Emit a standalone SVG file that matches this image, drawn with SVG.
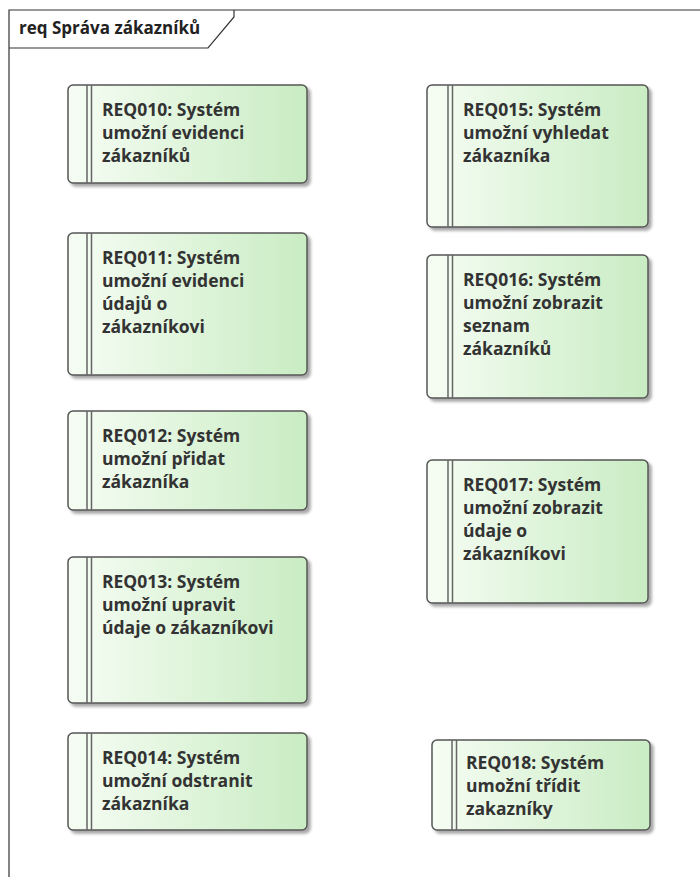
<svg xmlns="http://www.w3.org/2000/svg" width="700" height="877" viewBox="0 0 700 877">
  <style>
    .box { fill: url(#reqFill); stroke: #555555; stroke-width: 1.5; filter: url(#shadow); }
    .bar { stroke: #666666; stroke-width: 1.5; fill: none; }
    .lbl { font-family: "Open Sans", "Liberation Sans", sans-serif; font-weight: bold; font-size: 17.5px; fill: #333333; }
    .title { font-family: "Open Sans", "Liberation Sans", sans-serif; font-weight: bold; font-size: 17px; fill: #222222; }
    .frame { fill: none; stroke: #333333; stroke-width: 1.2; }
  </style>
  <defs>
    <linearGradient id="reqFill" x1="0" y1="0" x2="1" y2="0">
      <stop offset="0" stop-color="#f6fdf4"/>
      <stop offset="1" stop-color="#c9ecc3"/>
    </linearGradient>
    <filter id="shadow" x="-10%" y="-10%" width="125%" height="125%">
      <feGaussianBlur in="SourceAlpha" stdDeviation="1.5"/>
      <feOffset dx="3" dy="3" result="off"/>
      <feComponentTransfer><feFuncA type="linear" slope="0.35"/></feComponentTransfer>
      <feMerge><feMergeNode/><feMergeNode in="SourceGraphic"/></feMerge>
    </filter>
  </defs>
  <rect width="700" height="877" fill="#ffffff"/>

  <!-- package frame with name tab -->
  <g id="frame">
    <path class="frame" d="M9,880 L9,10 L705,10"/>
    <path class="frame" d="M9,48 L208,48 L234,17 L234,10"/>
    <text class="title" x="19" y="34">req Správa zákazníků</text>
  </g>

  <!-- left column requirements -->
  <g id="REQ010">
    <rect class="box" x="68" y="85" width="239" height="98" rx="5"/>
    <path class="bar" d="M87,85V183M91.5,85V183"/>
    <text class="lbl" x="102"><tspan x="102" y="116">REQ010: Systém</tspan><tspan x="102" y="139">umožní evidenci</tspan><tspan x="102" y="162">zákazníků</tspan></text>
  </g>
  <g id="REQ011">
    <rect class="box" x="68" y="233" width="239" height="142" rx="5"/>
    <path class="bar" d="M87,233V375M91.5,233V375"/>
    <text class="lbl" x="102"><tspan x="102" y="264">REQ011: Systém</tspan><tspan x="102" y="287">umožní evidenci</tspan><tspan x="102" y="310">údajů o</tspan><tspan x="102" y="333">zákazníkovi</tspan></text>
  </g>
  <g id="REQ012">
    <rect class="box" x="68" y="411" width="239" height="99" rx="5"/>
    <path class="bar" d="M87,411V510M91.5,411V510"/>
    <text class="lbl" x="102"><tspan x="102" y="442">REQ012: Systém</tspan><tspan x="102" y="465">umožní přidat</tspan><tspan x="102" y="488">zákazníka</tspan></text>
  </g>
  <g id="REQ013">
    <rect class="box" x="68" y="557" width="239" height="146" rx="5"/>
    <path class="bar" d="M87,557V703M91.5,557V703"/>
    <text class="lbl" x="102"><tspan x="102" y="588">REQ013: Systém</tspan><tspan x="102" y="611">umožní upravit</tspan><tspan x="102" y="634">údaje o zákazníkovi</tspan></text>
  </g>
  <g id="REQ014">
    <rect class="box" x="68" y="733" width="239" height="97" rx="5"/>
    <path class="bar" d="M87,733V830M91.5,733V830"/>
    <text class="lbl" x="102"><tspan x="102" y="764">REQ014: Systém</tspan><tspan x="102" y="787">umožní odstranit</tspan><tspan x="102" y="810">zákazníka</tspan></text>
  </g>

  <!-- right column requirements -->
  <g id="REQ015">
    <rect class="box" x="427" y="85" width="221" height="142" rx="5"/>
    <path class="bar" d="M448,85V227M452.5,85V227"/>
    <text class="lbl" x="463"><tspan x="463" y="116">REQ015: Systém</tspan><tspan x="463" y="139">umožní vyhledat</tspan><tspan x="463" y="162">zákazníka</tspan></text>
  </g>
  <g id="REQ016">
    <rect class="box" x="427" y="255" width="221" height="143" rx="5"/>
    <path class="bar" d="M448,255V398M452.5,255V398"/>
    <text class="lbl" x="463"><tspan x="463" y="286">REQ016: Systém</tspan><tspan x="463" y="309">umožní zobrazit</tspan><tspan x="463" y="332">seznam</tspan><tspan x="463" y="355">zákazníků</tspan></text>
  </g>
  <g id="REQ017">
    <rect class="box" x="427" y="460" width="221" height="143" rx="5"/>
    <path class="bar" d="M448,460V603M452.5,460V603"/>
    <text class="lbl" x="463"><tspan x="463" y="491">REQ017: Systém</tspan><tspan x="463" y="514">umožní zobrazit</tspan><tspan x="463" y="537">údaje o</tspan><tspan x="463" y="560">zákazníkovi</tspan></text>
  </g>
  <g id="REQ018">
    <rect class="box" x="432" y="740" width="218" height="90" rx="5"/>
    <path class="bar" d="M452,740V830M456.5,740V830"/>
    <text class="lbl" x="466"><tspan x="466" y="769">REQ018: Systém</tspan><tspan x="466" y="792">umožní třídit</tspan><tspan x="466" y="815">zakazníky</tspan></text>
  </g>

  <g id="connectors"/>
</svg>
